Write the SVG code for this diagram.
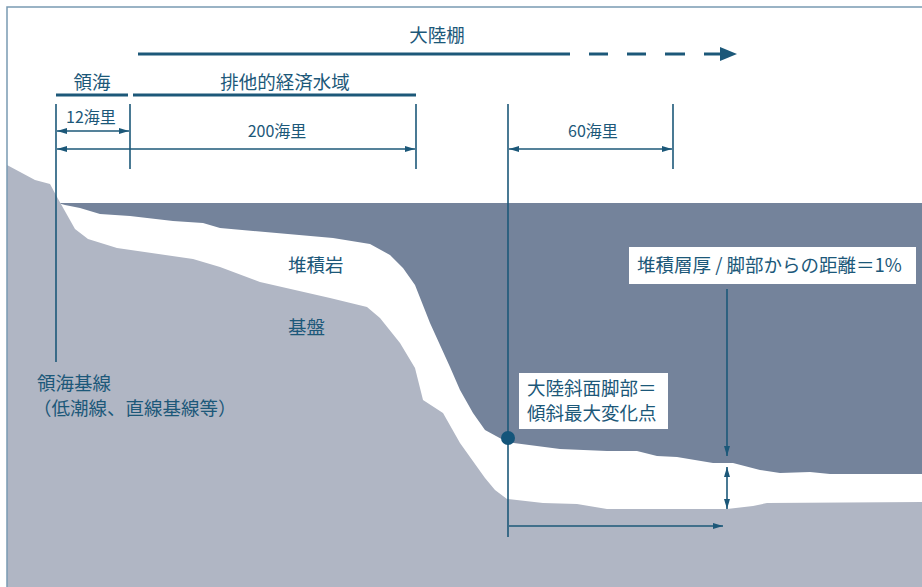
<svg xmlns="http://www.w3.org/2000/svg" width="922" height="587" viewBox="0 0 922 587">
  <style>
    .lbl { font-family: "Noto Sans CJK JP", "Noto Sans", sans-serif; fill: #1c5879; font-size: 18.5px; }
    .sm { font-size: 16px; }
    .dim { stroke: #1c5879; stroke-width: 1.6; fill: none; }
    .bar { stroke: #1c5879; stroke-width: 3; fill: none; }
    .box { fill: #ffffff; }
  </style>
  <defs>
    <marker id="ah" viewBox="0 0 10 6" refX="10" refY="3" markerWidth="10" markerHeight="6" markerUnits="userSpaceOnUse" orient="auto-start-reverse">
      <path d="M0,0 L10,3 L0,6 z" fill="#1c5879"/>
    </marker>
  </defs>

  <rect width="922" height="587" fill="#ffffff"/>

  <!-- sea water -->
  <g id="sea">
    <path fill="#74839b" d="M58,203 L922,203 L922,474 L830,474 L810,472 L780,473 L760,470 L733,463 L713,463 L677,457 L657,456 L637,451 L607,451 L560,449 L507,442 L485,430 L473,413 L460,390 L450,367 L430,323 L415,285 L403,268 L390,255 L370,244 L333,238 L220,228 L203,223 L173,221 L130,216 L100,214 L80,208 L65,205 Z"/>
  </g>

  <!-- basement rock -->
  <g id="basement">
    <path fill="#b0b6c4" d="M7,165 L35,180 L50,184 L57,197 L75,229 L88,239 L117,248 L193,259 L220,267 L260,282 L330,298 L367,307 L380,318 L400,343 L415,368 L418,380 L423,400 L443,413 L460,443 L485,478 L495,490 L507,499 L543,503 L577,504 L607,509 L727,509 L753,506 L767,503 L922,502 L922,587 L7,587 Z"/>
  </g>

  <!-- frame -->
  <path d="M7,587 L7,7 L922,7" stroke="#7a9ab2" stroke-width="1.5" fill="none"/>

  <g id="connectors">
    <!-- continental shelf bar -->
    <line class="bar" x1="138" y1="54" x2="570" y2="54"/>
    <line class="bar" x1="589" y1="54" x2="608" y2="54"/>
    <line class="bar" x1="627" y1="54" x2="646" y2="54"/>
    <line class="bar" x1="665" y1="54" x2="685" y2="54"/>
    <line class="bar" x1="704" y1="54" x2="722" y2="54"/>
    <path d="M720,47 L737,54 L720,61 Z" fill="#1c5879"/>

    <!-- zone underlines -->
    <line class="bar" x1="56" y1="95" x2="128" y2="95"/>
    <line class="bar" x1="133" y1="95" x2="416" y2="95"/>

    <!-- extension lines -->
    <line class="dim" x1="56" y1="104" x2="56" y2="362"/>
    <line class="dim" x1="130" y1="104" x2="130" y2="169"/>
    <line class="dim" x1="416" y1="104" x2="416" y2="169"/>
    <line class="dim" x1="508" y1="104" x2="508" y2="537"/>
    <line class="dim" x1="673" y1="104" x2="673" y2="169"/>

    <!-- distance arrows -->
    <line class="dim" x1="57" y1="131" x2="129" y2="131" marker-start="url(#ah)" marker-end="url(#ah)"/>
    <line class="dim" x1="57" y1="149" x2="415" y2="149" marker-start="url(#ah)" marker-end="url(#ah)"/>
    <line class="dim" x1="509" y1="149" x2="672" y2="149" marker-start="url(#ah)" marker-end="url(#ah)"/>

    <!-- sediment thickness / distance -->
    <line class="dim" x1="727" y1="289" x2="727" y2="456" marker-end="url(#ah)"/>
    <line class="dim" x1="727" y1="467" x2="727" y2="509" marker-start="url(#ah)" marker-end="url(#ah)"/>
    <line class="dim" x1="509" y1="526" x2="723" y2="526" marker-end="url(#ah)"/>
  </g>

  <!-- foot of slope point -->
  <g id="foot-point">
    <circle cx="508" cy="438" r="7" fill="#14557a"/>
  </g>

  <g id="label-shelf"><text class="lbl" x="437" y="42" text-anchor="middle">大陸棚</text></g>
  <g id="label-territorial"><text class="lbl" x="92" y="89" text-anchor="middle">領海</text></g>
  <g id="label-eez"><text class="lbl" x="285" y="89" text-anchor="middle">排他的経済水域</text></g>
  <g id="label-12"><text class="lbl sm" x="91" y="123" text-anchor="middle">12海里</text></g>
  <g id="label-200"><text class="lbl sm" x="277" y="137" text-anchor="middle">200海里</text></g>
  <g id="label-60"><text class="lbl sm" x="593" y="137" text-anchor="middle">60海里</text></g>
  <g id="label-sediment"><text class="lbl" x="288" y="272">堆積岩</text></g>
  <g id="label-basement"><text class="lbl" x="288" y="334">基盤</text></g>
  <g id="label-baseline">
    <text class="lbl" x="37" y="390">領海基線</text>
    <text class="lbl" x="33" y="415">（低潮線、直線基線等）</text>
  </g>
  <g id="label-ratio">
    <rect class="box" x="629" y="247" width="287" height="37"/>
    <text class="lbl" x="637" y="272">堆積層厚 / 脚部からの距離＝1%</text>
  </g>
  <g id="label-foot">
    <rect class="box" x="519" y="373" width="149" height="56"/>
    <text class="lbl" x="527" y="395">大陸斜面脚部＝</text>
    <text class="lbl" x="527" y="420">傾斜最大変化点</text>
  </g>
</svg>
